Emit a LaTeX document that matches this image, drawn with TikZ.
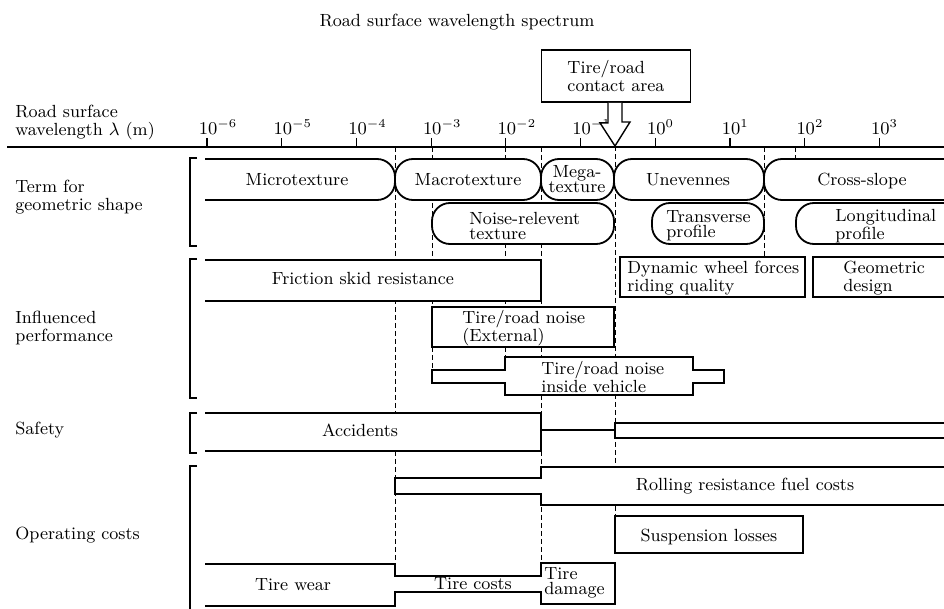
\documentclass[tikz,border=0pt]{standalone}
\usepackage{amsmath}
\usepackage{tikz}
\usetikzlibrary{calc}

\begin{document}
\begin{tikzpicture}[x=0.5pt, y=-0.5pt, font=\fontsize{8.8}{9}\selectfont,
    band/.style={line width=0.9pt, fill=white},
    pill/.style={band, rounded corners=9pt},
    guide/.style={line width=0.45pt, dash pattern=on 2.5pt off 1.5pt},
    txt/.style={inner sep=0pt, align=left},
    tight/.style={txt, font=\fontsize{8.8}{7.5}\selectfont}]
    \useasboundingbox (0,0) rectangle (944,609);

    \node[inner sep=0pt] (title) at (457,22) {Road surface wavelength spectrum};

    % wavelength axis
    \draw[line width=1.1pt] (7,147) -- (944,147);
    \foreach \e [count=\i from 0] in {-6,...,3} {
        \pgfmathsetmacro{\xx}{207+74.7*\i}
        \draw[line width=0.6pt] (\xx,138) -- (\xx,147);
        \node[anchor=base west, inner sep=0pt] (tick\i) at (\xx-8.5,135) {$10^{\e}$};
    }

    % contact area and its arrow
    \node[draw, line width=0.9pt, txt, minimum width=74.5pt, minimum height=26pt] (contact) at (616,76) {Tire/road\\contact area};
    \coordinate (tip) at (615,146);
    \draw[band, line width=0.7pt] ($(contact.south)+(-8,0)$) -- ++(0,20) -- ++(-8,0) -- (tip)
        -- ++(15,-24) -- ++(-8,0) -- ($(contact.south)+(6,0)$);

    % guide lines
    \draw[guide] (395,147) -- (395,563);
    \draw[guide] (432,147) -- (432,371);
    \draw[guide] (505,147) -- (505,356);
    \draw[guide] (541,147) -- (541,563);
    \draw[guide] (tip) -- (615,516);
    \draw[guide] (764,147) -- (764,257);
    \draw[guide] (795,147) -- (795,203);

    % groups
    \draw[line width=0.7pt] (197,158) -- (190,158) -- (190,246) -- (197,246);
    \draw[line width=0.7pt] (197,259) -- (190,259) -- (190,398) -- (197,398);
    \draw[line width=0.7pt] (197,413) -- (190,413) -- (190,453) -- (197,453);
    \draw[line width=0.7pt] (197,466) -- (190,466) -- (190,609);
    \node[txt, anchor=west] (axislbl) at (15,122) {Road surface\\wavelength $\lambda$ (m)};
    \node[txt, anchor=west] (termlbl) at (15,197) {Term for\\geometric shape};
    \node[txt, anchor=west] (perflbl) at (15,328) {Influenced\\performance};
    \node[txt, anchor=base west] (safelbl) at (15,435) {Safety};
    \node[txt, anchor=base west] (costlbl) at (15,540) {Operating costs};

    % term for geometric shape
    \draw[pill] (205,159) -- (395,159) -- (395,200) -- (205,200);
    \node[txt, anchor=base] (micro) at (297,186) {Microtexture};
    \draw[pill] (395,159) rectangle (541,200);
    \node[txt, anchor=base] (macro) at (468,186) {Macrotexture};
    \draw[pill] (541,159) rectangle (614,200);
    \node[tight, align=center] (mega) at (577,179) {Mega-\\texture};
    \draw[pill] (614,159) rectangle (764,200);
    \node[txt, anchor=base] (uneven) at (688,186) {Unevennes};
    \draw[pill] (944,159) -- (764,159) -- (764,200) -- (944,200);
    \node[txt, anchor=base] (slope) at (862,186) {Cross-slope};
    \draw[pill] (432,203) rectangle (614,244);
    \node[tight, anchor=west] (noisetex) at (469,226) {Noise-relevent\\texture};
    \draw[pill] (652,203) rectangle (764,244);
    \node[tight, anchor=west] (transv) at (666,226) {Transverse\\profile};
    \draw[pill] (944,203) -- (796,203) -- (796,244) -- (944,244);
    \node[tight, anchor=west] (longit) at (835,226) {Longitudinal\\profile};

    % influenced performance
    \draw[band] (205,260) -- (541,260) -- (541,301) -- (205,301);
    \node[txt, anchor=base] (friction) at (363,285) {Friction skid resistance};
    \draw[band] (620,257) rectangle (805,297);
    \node[txt, anchor=west] (dynamic) at (627,278) {Dynamic wheel forces\\riding quality};
    \draw[band] (944,257) -- (813,257) -- (813,297) -- (944,297);
    \node[txt, anchor=west] (geodes) at (843,278) {Geometric\\design};
    \draw[band] (432,307) rectangle (614,347);
    \node[txt, anchor=west] (noiseext) at (462,328) {Tire/road noise\\(External)};
    \draw[band] (432,370) -- (505,370) -- (505,357) -- (693,357) -- (693,370) -- (724,370)
        -- (724,383) -- (693,383) -- (693,395) -- (505,395) -- (505,383) -- (432,383) -- cycle;
    \node[txt, anchor=west] (noiseveh) at (541,377) {Tire/road noise\\inside vehicle};

    % safety
    \draw[band] (205,413) -- (541,413) -- (541,451) -- (205,451);
    \draw[line width=0.9pt] (541,430) -- (615,430);
    \draw[band] (944,423) -- (615,423) -- (615,438) -- (944,438);
    \node[txt, anchor=base] (accid) at (360,437) {Accidents};

    % operating costs
    \draw[band] (944,467) -- (541,467) -- (541,478) -- (395,478) -- (395,494) -- (541,494)
        -- (541,505) -- (944,505);
    \node[txt, anchor=base] (rolling) at (745,491) {Rolling resistance fuel costs};
    \draw[band] (615,516) rectangle (803,553);
    \node[txt, anchor=base] (susp) at (709,542) {Suspension losses};
    \draw[band] (205,564) -- (395,564) -- (395,576) -- (541,576) -- (541,563) -- (615,563)
        -- (615,604) -- (541,604) -- (541,592) -- (395,592) -- (395,606) -- (205,606);
    \node[txt, anchor=base] (wear) at (293,591) {Tire wear};
    \node[txt, anchor=base] (tcost) at (473,590) {Tire costs};
    \node[tight, anchor=west] (damage) at (544,583) {Tire\\damage};
\end{tikzpicture}
\end{document}
